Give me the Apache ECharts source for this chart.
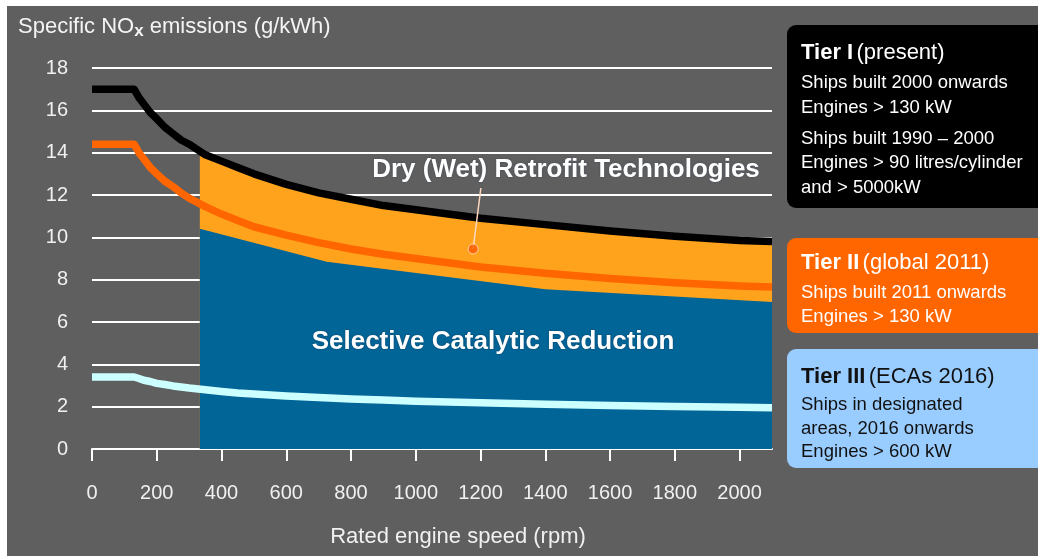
<!DOCTYPE html>
<html>
<head>
<meta charset="utf-8">
<title>Specific NOx emissions vs rated engine speed</title>
<script src="https://cdn.jsdelivr.net/npm/echarts@6/dist/echarts.min.js"></script>
<style>
  html, body { margin: 0; padding: 0; background: #ffffff; }
  #chart { position: absolute; left: 7px; top: 6px; width: 1031px; height: 550px; }
</style>
</head>
<body>
<div id="chart"></div>
<script>
// Rated engine speed (rpm) sample points for the tier limit curves
const rpm = [0, 130, 145, 160, 180, 200, 225, 250, 275, 300, 350, 400, 450, 500, 600, 700, 800, 900, 1000, 1200, 1400, 1600, 1800, 2000, 2100];
// NOx limits (g/kWh)
const tierI   = [17.0, 17.0, 16.6, 16.3, 15.9, 15.6, 15.2, 14.9, 14.6, 14.4, 13.9, 13.6, 13.3, 13.0, 12.5, 12.1, 11.8, 11.5, 11.3, 10.9, 10.6, 10.3, 10.05, 9.85, 9.8];
const tierII  = [14.4, 14.4, 14.0, 13.7, 13.3, 13.0, 12.65, 12.4, 12.1, 11.85, 11.45, 11.1, 10.8, 10.5, 10.1, 9.75, 9.45, 9.2, 9.0, 8.6, 8.3, 8.05, 7.85, 7.7, 7.65];
const tierIII = [3.4, 3.4, 3.33, 3.25, 3.19, 3.1, 3.05, 2.98, 2.93, 2.88, 2.8, 2.72, 2.65, 2.6, 2.5, 2.43, 2.36, 2.31, 2.26, 2.18, 2.11, 2.06, 2.01, 1.97, 1.95];

// Retrofit band (upper edge) and SCR band (upper edge)
const retrofitRpm = [333, 350, 400, 450, 500, 600, 700, 800, 900, 1000, 1200, 1400, 1600, 1800, 2000, 2100];
const retrofitTop = [14.1, 13.9, 13.6, 13.3, 13.0, 12.5, 12.1, 11.8, 11.5, 11.3, 10.9, 10.6, 10.3, 10.05, 9.85, 9.8];
const scrRpm = [333, 725, 1400, 2100];
const scrTop = [10.4, 8.85, 7.55, 6.95];

// Callout for the retrofit label: anchor point and line end
const calloutRpm = [1177, 1201];
const calloutVal = [9.45, 12.33];

const xTicks = [0, 200, 400, 600, 800, 1000, 1200, 1400, 1600, 1800, 2000];

const pairs = (xs, ys) => xs.map((x, i) => [x, ys[i]]);

const FONT = '"Liberation Sans", Arial, sans-serif';
const GRID = { left: 85, top: 62, width: 680, height: 381 };

const chart = echarts.init(document.getElementById('chart'), null, { renderer: 'canvas' });

function legendBox(y, h, fill, color, titleBold, titleRest, lines, lineYs, titleY) {
  const children = [{
    type: 'rect',
    shape: { x: 780, y: y, width: 270, height: h, r: 9 },
    style: { fill: fill }
  }, {
    type: 'text',
    x: 794, y: titleY,
    style: {
      text: '{b|' + titleBold + '} {r|' + titleRest + '}',
      verticalAlign: 'middle',
      rich: {
        b: { fontFamily: FONT, fontSize: 22, fontWeight: 'bold', fill: color },
        r: { fontFamily: FONT, fontSize: 22, fill: color }
      }
    }
  }];
  lines.forEach((t, i) => children.push({
    type: 'text',
    x: 794, y: lineYs[i],
    style: { text: t, fontFamily: FONT, fontSize: 18.5, fill: color, verticalAlign: 'middle' }
  }));
  return { type: 'group', children: children };
}

const curve = (name, xs, ys, color, z) => ({
  name: name, type: 'line', data: pairs(xs, ys),
  symbol: 'none', smooth: false,
  lineStyle: { color: color, width: 7.5, cap: 'butt', join: 'round' }, z: z
});

const option = {
  backgroundColor: '#5f5f5f',
  animation: false,
  title: {
    left: 11, top: 8, padding: 0,
    text: '{a|Specific NO}{s|x}{a| emissions (g/kWh)}',
    textStyle: {
      fontWeight: 'normal',
      rich: {
        a: { fontFamily: FONT, fontSize: 22, fontWeight: 'normal', color: '#f4f4f4', lineHeight: 26 },
        s: { fontFamily: FONT, fontSize: 17, fontWeight: 'bold', color: '#f4f4f4', padding: [9, 0, 0, 0], lineHeight: 26 }
      }
    }
  },
  grid: { left: GRID.left, top: GRID.top, width: GRID.width, height: GRID.height },
  xAxis: {
    type: 'value',
    min: 0, max: 2100, interval: 200,
    name: 'Rated engine speed (rpm)',
    nameLocation: 'middle',
    nameGap: 77,
    nameTextStyle: { fontFamily: FONT, fontSize: 22, color: '#f0f0f0', padding: [0, 0, 0, 52] },
    axisLine: { show: true, lineStyle: { color: '#ffffff', width: 2 } },
    axisTick: { show: true, length: 12, customValues: xTicks, lineStyle: { color: '#ffffff', width: 2 } },
    axisLabel: {
      customValues: xTicks, margin: 34, fontFamily: FONT, fontSize: 20, color: '#f0f0f0',
      formatter: v => String(v)
    },
    splitLine: { show: false }
  },
  yAxis: {
    type: 'value',
    min: 0, max: 18, interval: 2,
    axisLine: { show: false },
    axisTick: { show: false },
    axisLabel: { margin: 24, fontFamily: FONT, fontSize: 20, color: '#f0f0f0' },
    splitLine: { show: true, lineStyle: { color: '#ffffff', width: 2 } }
  },
  series: [
    {
      name: 'Retrofit', type: 'line', data: pairs(retrofitRpm, retrofitTop),
      symbol: 'none', lineStyle: { width: 0 },
      areaStyle: { color: '#ffa31c', opacity: 1 }, z: 2
    },
    {
      name: 'SCR', type: 'line', data: pairs(scrRpm, scrTop),
      symbol: 'none', lineStyle: { width: 0 },
      areaStyle: { color: '#026597', opacity: 1 }, z: 3
    },
    curve('Tier III', rpm, tierIII, '#ccffff', 4),
    curve('Tier II', rpm, tierII, '#ff6600', 5),
    curve('Tier I', rpm, tierI, '#000000', 6),
    {
      name: 'Callout', type: 'line', data: pairs(calloutRpm, calloutVal),
      symbol: 'none', lineStyle: { color: '#ffd8bf', width: 1.5 }, z: 7
    },
    {
      name: 'Callout dot', type: 'scatter', data: [[calloutRpm[0], calloutVal[0]]],
      symbolSize: 10, itemStyle: { color: '#ff5a00', borderColor: '#ffe0d0', borderWidth: 1 }, z: 8
    }
  ],
  graphic: [
    {
      type: 'text', x: 559, y: 164, z: 20,
      style: {
        text: 'Dry (Wet) Retrofit Technologies', fontFamily: FONT, fontSize: 26, fontWeight: 'bold',
        fill: '#ffffff', align: 'center', verticalAlign: 'middle',
        textShadowColor: 'rgba(40,60,90,0.6)', textShadowBlur: 2
      }
    },
    {
      type: 'text', x: 486, y: 336, z: 20,
      style: {
        text: 'Selective Catalytic Reduction', fontFamily: FONT, fontSize: 26, fontWeight: 'bold',
        fill: '#ffffff', align: 'center', verticalAlign: 'middle',
        textShadowColor: 'rgba(20,40,70,0.6)', textShadowBlur: 2
      }
    },
    legendBox(19, 183, '#000000', '#ffffff', 'Tier I', '(present)',
      ['Ships built 2000 onwards', 'Engines > 130 kW', 'Ships built 1990 \u2013 2000', 'Engines > 90 litres/cylinder', 'and > 5000kW'],
      [77, 102, 133, 157, 182], 47),
    legendBox(232, 95, '#ff6600', '#ffffff', 'Tier II', '(global 2011)',
      ['Ships built 2011 onwards', 'Engines > 130 kW'],
      [287, 311], 257),
    legendBox(343, 119, '#99ccff', '#111111', 'Tier III', '(ECAs 2016)',
      ['Ships in designated', 'areas, 2016 onwards', 'Engines > 600 kW'],
      [399, 423, 446], 371)
  ]
};

chart.setOption(option);
</script>
</body>
</html>
